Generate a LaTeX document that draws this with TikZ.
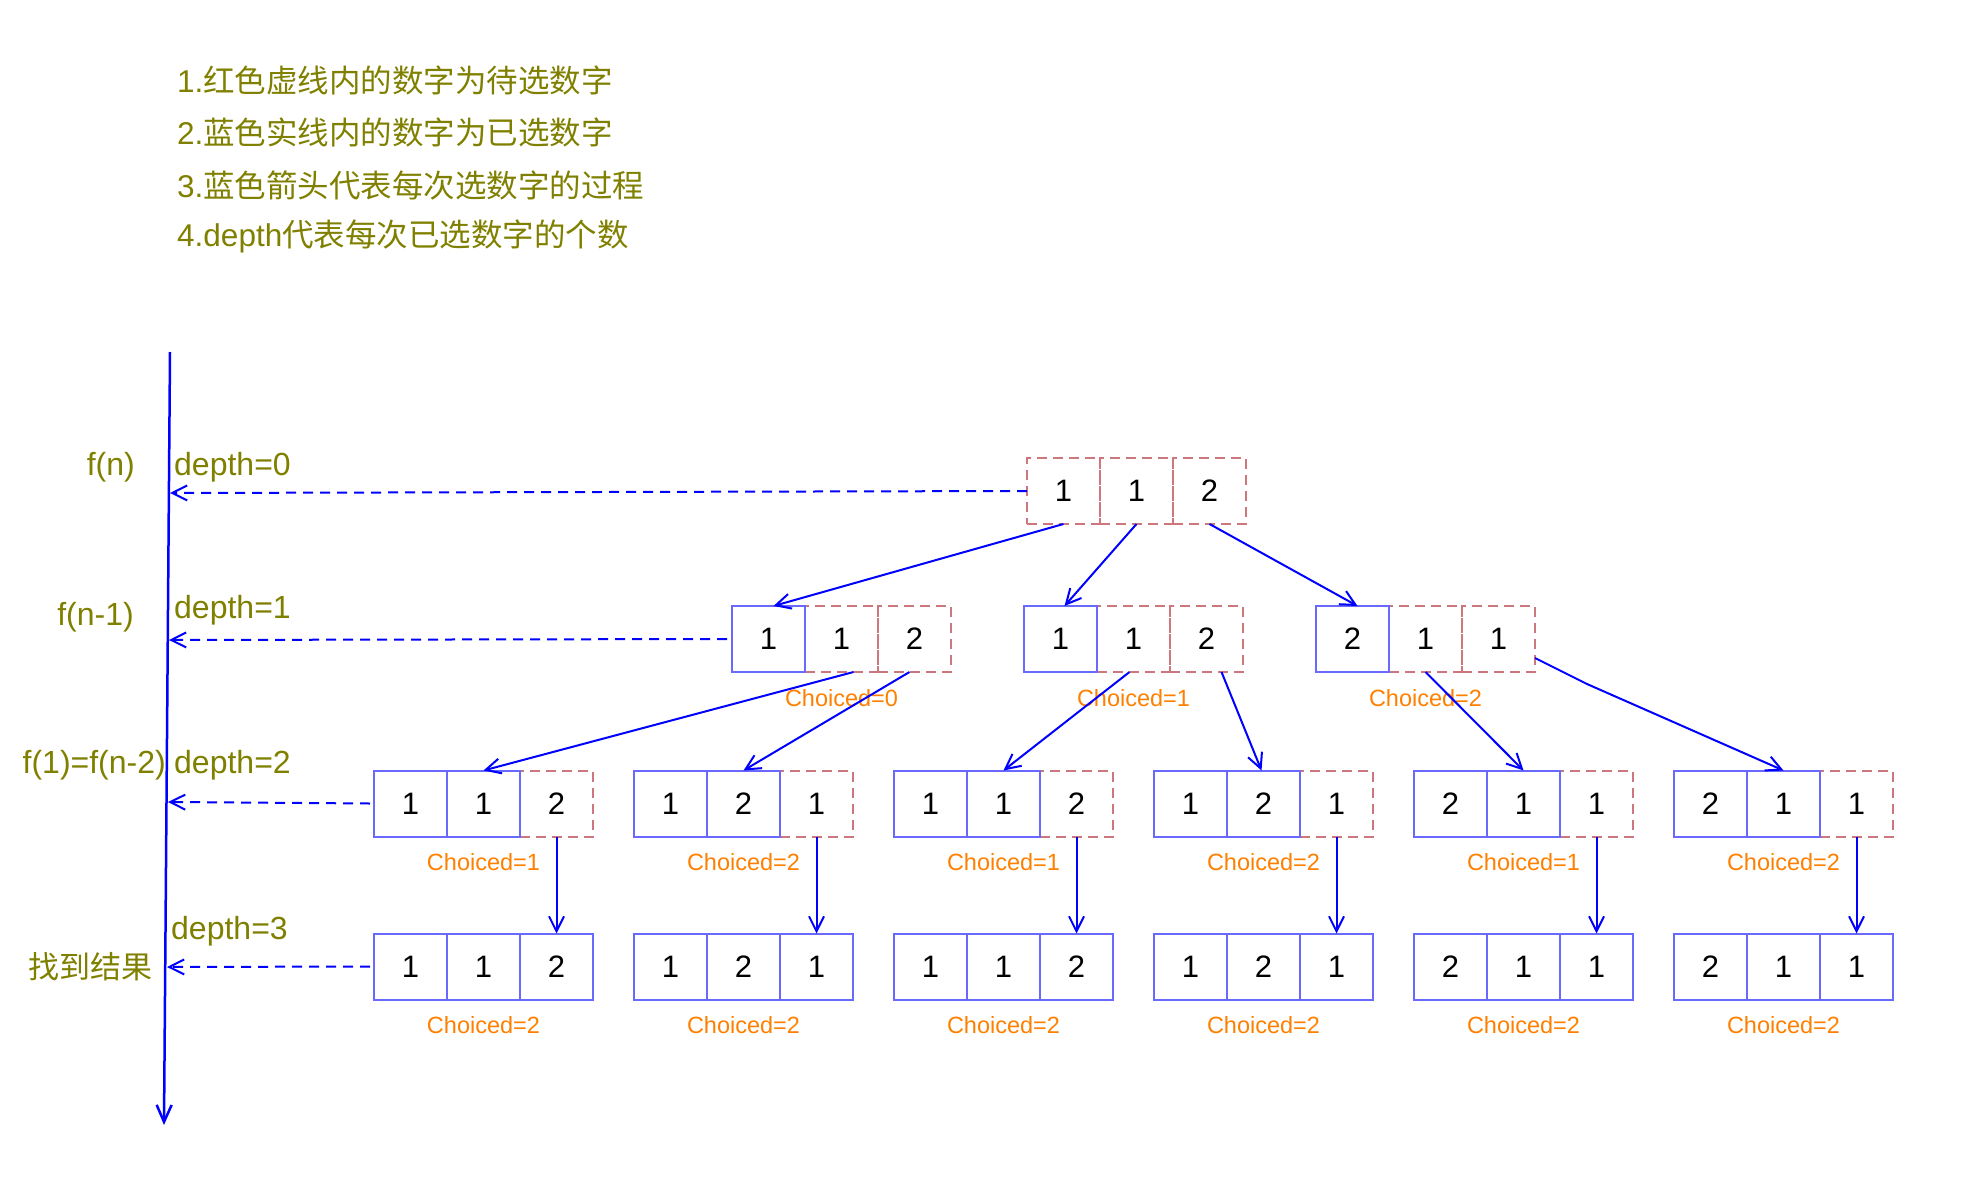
\documentclass[tikz,border=0pt]{standalone}
\usepackage{fontspec}
\setmainfont{Liberation Sans}
\newfontfamily\cjk{Noto Sans CJK SC}
\usetikzlibrary{arrows.meta}
\definecolor{olivetext}{RGB}{128,128,0}
\definecolor{choiceorange}{RGB}{255,128,0}
\definecolor{boxblue}{RGB}{105,105,255}
\definecolor{dashred}{RGB}{204,119,125}
\definecolor{linkblue}{RGB}{0,0,255}
\tikzset{
  cellbase/.style={minimum width=73pt,minimum height=66pt,inner sep=0pt,outer sep=0pt,
    font=\fontsize{31}{31}\selectfont,text=black},
  solidcell/.style={cellbase,draw=boxblue,line width=2pt},
  dashcell/.style={cellbase,draw=dashred,line width=2pt,dash pattern=on 10pt off 6pt},
  choice/.style={text=choiceorange,font=\fontsize{23.5}{24}\selectfont,inner sep=0pt},
  lbl/.style={text=olivetext,font=\fontsize{32}{32}\selectfont,inner sep=0pt},
  note/.style={text=olivetext,font=\fontsize{31.5}{32}\selectfont,inner sep=0pt,anchor=west},
  vtip/.style={-{Straight Barb[length=15pt,width=15pt,line width=2pt]}},
  arr/.style={draw=linkblue,line width=2pt,vtip},
  dasharr/.style={draw=linkblue,line width=2pt,dash pattern=on 10pt off 7pt,vtip},
  axisline/.style={draw=linkblue,line width=2.5pt,-{Straight Barb[length=17pt,width=15pt,line width=2.5pt]}}
}
\begin{document}
\begin{tikzpicture}[x=1pt,y=-1pt]
\useasboundingbox (0,0) rectangle (1972,1196);

% notes
\node[note] (n1) at (177,80) {1.{\cjk 红色虚线内的数字为待选数字}};
\node[note] (n2) at (177,132) {2.{\cjk 蓝色实线内的数字为已选数字}};
\node[note] (n3) at (177,185) {3.{\cjk 蓝色箭头代表每次选数字的过程}};
\node[note] (n4) at (177,236) {4.depth{\cjk 代表每次已选数字的个数}};

% axis
\coordinate (axtop) at (170,352);
\coordinate (axbot) at (164,1125);
\draw[axisline] (axtop) -- (axbot);
\coordinate (ax0) at (170,493);
\coordinate (ax1) at (169,640);
\coordinate (ax2) at (168,802);
\coordinate (ax3) at (167,967);

% left labels
\node[lbl,anchor=east] (fn) at (135,467) {f(n)};
\node[lbl,anchor=west] (d0) at (174,467) {depth=0};
\node[lbl,anchor=east] (fn1) at (134,617) {f(n-1)};
\node[lbl,anchor=west] (d1) at (174,610) {depth=1};
\node[lbl,anchor=east] (fn2) at (166,765) {f(1)=f(n-2)};
\node[lbl,anchor=west] (d2) at (174,765) {depth=2};
\node[lbl,anchor=west] (d3) at (171,931) {depth=3};
\node[lbl,anchor=east,font=\cjk\fontsize{31}{31}\selectfont] (res) at (153,967) {找到结果};

% row 0
\node[dashcell] (r0-a) at (1063.5,491) {1};
\node[dashcell] (r0-b) at (1136.5,491) {1};
\node[dashcell] (r0-c) at (1209.5,491) {2};

% row 1
\foreach \n/\x/\a/\b/\c/\ch in {a/732/1/1/2/0, b/1024/1/1/2/1, c/1316/2/1/1/2}{
  \node[dashcell] (r1\n-b) at ({\x+109.5},639) {\b};
  \node[dashcell] (r1\n-c) at ({\x+182.5},639) {\c};
  \node[solidcell] (r1\n-a) at ({\x+36.5},639) {\a};
  \node[choice] (q1\n) at ({\x+109.5},698) {Choiced=\ch};
}

% row 2
\foreach \i/\x/\a/\b/\c/\ch in {1/374/1/1/2/1, 2/634/1/2/1/2, 3/894/1/1/2/1, 4/1154/1/2/1/2, 5/1414/2/1/1/1, 6/1674/2/1/1/2}{
  \node[dashcell] (p\i-c) at ({\x+182.5},803.5) {\c};
  \node[solidcell] (p\i-a) at ({\x+36.5},803.5) {\a};
  \node[solidcell] (p\i-b) at ({\x+109.5},803.5) {\b};
  \node[choice] (q2\i) at ({\x+109.5},862) {Choiced=\ch};
}

% row 3
\foreach \i/\x/\a/\b/\c in {1/374/1/1/2, 2/634/1/2/1, 3/894/1/1/2, 4/1154/1/2/1, 5/1414/2/1/1, 6/1674/2/1/1}{
  \node[solidcell] (s\i-a) at ({\x+36.5},966.5) {\a};
  \node[solidcell] (s\i-b) at ({\x+109.5},966.5) {\b};
  \node[solidcell] (s\i-c) at ({\x+182.5},966.5) {\c};
  \node[choice] (q3\i) at ({\x+109.5},1025) {Choiced=2};
  \draw[arr] (p\i-c.south) -- (s\i-c.north);
}

% dashed arrows to the axis
\draw[dasharr] (r0-a.west) -- (ax0);
\draw[dasharr] ([xshift=-5pt]r1a-a.west) -- (ax1);
\draw[dasharr] ([xshift=-4pt]p1-a.west) -- (ax2);
\draw[dasharr] ([xshift=-4pt]s1-a.west) -- (ax3);

% tree arrows
\draw[arr] (r0-a.south) -- ([xshift=5pt]r1a-a.north);
\draw[arr] (r0-b.south) -- ([xshift=4pt]r1b-a.north);
\draw[arr] (r0-c.south) -- ([xshift=5pt]r1c-a.north);
\draw[arr] ([xshift=12pt]r1a-b.south) -- (p1-b.north);
\draw[arr] ([xshift=-5pt]r1a-c.south) -- (p2-b.north);
\draw[arr] ([xshift=-4pt]r1b-b.south) -- (p3-b.north);
\draw[arr] ([xshift=15pt]r1b-c.south) -- ([xshift=-2pt]p4-b.north);
\draw[arr] (r1c-b.south) -- (p5-b.north);
\coordinate (bend) at (1587,684);
\draw[arr] ([yshift=-19pt]r1c-c.east) -- (bend) -- (p6-b.north);
\end{tikzpicture}
\end{document}
